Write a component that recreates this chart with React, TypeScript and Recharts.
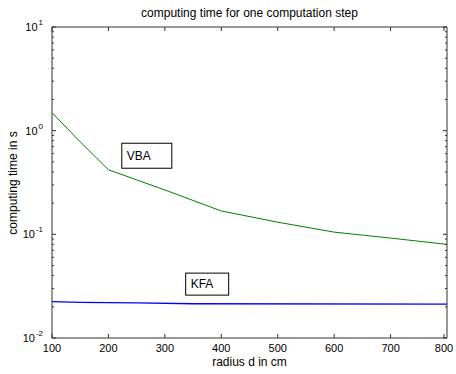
import React from "react";
import { LineChart, Line, XAxis, YAxis, ReferenceDot } from "recharts";

const xTicks = [100, 200, 300, 400, 500, 600, 700, 800];
const yMajor = [0.01, 0.1, 1, 10];
const yMinor = [
  0.02, 0.03, 0.04, 0.05, 0.06, 0.07, 0.08, 0.09,
  0.2, 0.3, 0.4, 0.5, 0.6, 0.7, 0.8, 0.9,
  2, 3, 4, 5, 6, 7, 8, 9,
];
const vbaRadius = [100, 150, 200, 250, 300, 400, 500, 600, 700, 800];
const vbaTime = [1.49, 0.78, 0.42, 0.335, 0.268, 0.168, 0.131, 0.105, 0.092, 0.08];
const kfaRadius = [100, 150, 250, 350, 800];
const kfaTime = [0.0224, 0.0221, 0.0218, 0.0214, 0.0212];
const labels = [
  { name: "VBA", x: 268, y: 0.573, w: 50, h: 25 },
  { name: "KFA", x: 375, y: 0.0331, w: 43, h: 22 },
];

const vbaData = vbaRadius.map((r, i) => ({ r, t: vbaTime[i] }));
const kfaData = kfaRadius.map((r, i) => ({ r, t: kfaTime[i] }));

const FONT = "'Liberation Sans', Arial, Helvetica, sans-serif";
const AXIS = "#303030";
const allY = [...yMajor, ...yMinor].sort((a, b) => a - b);

const expOf = (v: number) => Math.round(Math.log10(v));

const YTick = (props: any) => {
  const { x, y, payload, side } = props;
  const v = payload.value;
  const major = yMajor.some((m) => Math.abs(m - v) < 1e-9);
  const len = major ? 4 : 2;
  const dir = side === "left" ? 1 : -1;
  return (
    <g>
      <line x1={x} y1={y} x2={x + dir * len} y2={y} stroke={AXIS} strokeWidth={1} />
      {major && side === "left" ? (
        <text x={x - 9} y={y + 4} fontSize={11} fontFamily={FONT} fill="#000" textAnchor="end">
          10
          <tspan dx={1} dy={-6} fontSize={8}>{String(expOf(v))}</tspan>
        </text>
      ) : null}
    </g>
  );
};

const XTick = (props: any) => {
  const { x, y, payload, side } = props;
  const dir = side === "bottom" ? -1 : 1;
  return (
    <g>
      <line x1={x} y1={y} x2={x} y2={y + dir * 4} stroke={AXIS} strokeWidth={1} />
      {side === "bottom" ? (
        <text x={x} y={y + 14} fontSize={11} fontFamily={FONT} fill="#000" textAnchor="middle">
          {payload.value}
        </text>
      ) : null}
    </g>
  );
};

const LabelBox = (props: any) => {
  const { cx, cy, w, h, name } = props;
  return (
    <g>
      <rect x={cx - w / 2} y={cy - h / 2} width={w} height={h} fill="#fff" stroke="#000" strokeWidth={1} />
      <text x={cx - w / 2 + 5} y={cy + 4} fontSize={12} fontFamily={FONT} fill="#000">
        {name}
      </text>
    </g>
  );
};

export default function App() {
  return (
    <div style={{ position: "absolute", left: 0, top: 0, width: 456, height: 374, background: "#fff" }}>
      <LineChart width={456} height={374} margin={{ top: 26, right: 8, bottom: 0, left: 0 }}>
        <XAxis
          xAxisId="b"
          type="number"
          dataKey="r"
          domain={[100, 800]}
          ticks={xTicks}
          orientation="bottom"
          height={36}
          tickSize={0}
          tickMargin={0}
          stroke={AXIS}
          tick={<XTick side="bottom" />}
          allowDataOverflow
        />
        <XAxis
          xAxisId="t"
          type="number"
          dataKey="r"
          domain={[100, 800]}
          ticks={xTicks}
          orientation="top"
          height={1}
          tickSize={0}
          tickMargin={0}
          stroke={AXIS}
          tick={<XTick side="top" />}
          allowDataOverflow
        />
        <YAxis
          yAxisId="l"
          type="number"
          dataKey="t"
          scale="log"
          domain={[0.01, 10]}
          ticks={allY}
          interval={0}
          orientation="left"
          width={52}
          tickSize={0}
          tickMargin={0}
          stroke={AXIS}
          tick={<YTick side="left" />}
          allowDataOverflow
        />
        <YAxis
          yAxisId="r"
          type="number"
          dataKey="t"
          scale="log"
          domain={[0.01, 10]}
          ticks={allY}
          interval={0}
          orientation="right"
          width={1}
          tickSize={0}
          tickMargin={0}
          stroke={AXIS}
          tick={<YTick side="right" />}
          allowDataOverflow
        />
        <Line
          xAxisId="t"
          yAxisId="r"
          data={vbaData}
          dataKey="t"
          stroke="none"
          dot={false}
          legendType="none"
          isAnimationActive={false}
        />
        <Line
          xAxisId="b"
          yAxisId="l"
          data={vbaData}
          dataKey="t"
          stroke="#008000"
          strokeWidth={1}
          dot={false}
          isAnimationActive={false}
        />
        <Line
          xAxisId="b"
          yAxisId="l"
          data={kfaData}
          dataKey="t"
          stroke="#0000ff"
          strokeWidth={1.3}
          dot={false}
          isAnimationActive={false}
        />
        {labels.map((l) => (
          <ReferenceDot
            key={l.name}
            xAxisId="b"
            yAxisId="l"
            x={l.x}
            y={l.y}
            r={0}
            shape={(p: any) => <LabelBox {...p} w={l.w} h={l.h} name={l.name} />}
          />
        ))}
        <text x={249.5} y={17} fontSize={12} fontFamily={FONT} fill="#000" textAnchor="middle">
          computing time for one computation step
        </text>
        <text x={249.5} y={366} fontSize={12} fontFamily={FONT} fill="#000" textAnchor="middle">
          radius d in cm
        </text>
        <text x={17} y={183} fontSize={12} fontFamily={FONT} fill="#000" textAnchor="middle" transform="rotate(-90 17 183)">
          computing time in s
        </text>
      </LineChart>
    </div>
  );
}
